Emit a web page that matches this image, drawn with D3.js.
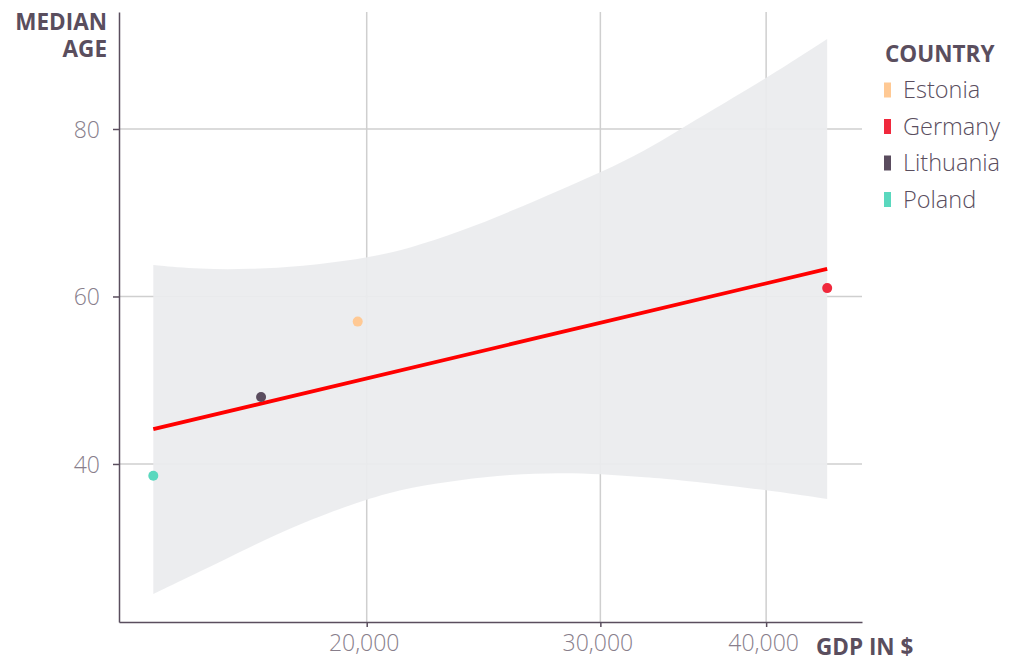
<!DOCTYPE html>
<html>
<head>
<meta charset="utf-8">
<script src="https://cdn.jsdelivr.net/npm/d3@7"></script>
<style>
  body { margin: 0; background: #fff; }
  svg { font-family: "Open Sans", "Noto Sans", sans-serif; }
</style>
</head>
<body>
<div id="chart"></div>
<script>
// data
const countries = ["Estonia", "Germany", "Lithuania", "Poland"];
const gdp = [19690, 44470, 16650, 13810];
const medianAge = [57.0, 61.0, 48.0, 38.6];
const countryColors = ["#ffc994", "#f0283c", "#5a4c5e", "#5ad8be"];

// fitted line ends
const fitGdp = [13810, 44470];
const fitAge = [44.15, 63.3];

// confidence band
const bandGdp = [13810, 14970, 16330, 17820, 20000, 21560, 23520, 25650, 27970, 29990, 32520, 34450, 40070, 44470];
const bandUpper = [63.76, 63.25, 63.25, 63.56, 64.56, 65.75, 67.74, 70.13, 72.72, 74.78, 77.5, 80.0, 86.1, 90.75];
const bandLower = [24.48, 27.14, 30.09, 32.92, 35.82, 37.2, 38.1, 38.75, 38.96, 38.81, 38.4, 38.1, 36.9, 35.82];

const xTicks = [20000, 30000, 40000];
const yTicks = [40, 60, 80];

const width = 1014, height = 662;
const plot = { left: 119, right: 862, top: 12, bottom: 622 };

const svg = d3.select("#chart").append("svg")
  .attr("width", width)
  .attr("height", height);

const x = d3.scaleLog().domain([13012, 47240]).range([plot.left, plot.right]);
const y = d3.scaleLinear().domain([21.13, 93.97]).range([plot.bottom, plot.top]);

const axisColor = "#5a4e5e";
const tickColor = "#887e8b";
const gridColor = "#cfcfcf";

// grid
svg.append("g").selectAll("line").data(yTicks).join("line")
  .attr("x1", plot.left).attr("x2", plot.right)
  .attr("y1", d => y(d)).attr("y2", d => y(d))
  .attr("stroke", gridColor).attr("stroke-width", 1.5);

svg.append("g").selectAll("line").data(xTicks).join("line")
  .attr("x1", d => x(d)).attr("x2", d => x(d))
  .attr("y1", plot.top).attr("y2", plot.bottom)
  .attr("stroke", gridColor).attr("stroke-width", 1.5);

// band (basis curve smooths out reading noise)
const band = bandGdp.map((g, i) => ({ g, hi: bandUpper[i], lo: bandLower[i] }));
svg.append("path")
  .datum(band)
  .attr("fill", "#ebecee")
  .attr("fill-opacity", 0.93)
  .attr("d", d3.area()
    .curve(d3.curveBasis)
    .x(d => x(d.g))
    .y0(d => y(d.lo))
    .y1(d => y(d.hi)));

// fit line
svg.append("line")
  .attr("x1", x(fitGdp[0])).attr("x2", x(fitGdp[1]))
  .attr("y1", y(fitAge[0])).attr("y2", y(fitAge[1]))
  .attr("stroke", "#ff0000")
  .attr("stroke-width", 3.8);

// points
svg.append("g").selectAll("circle").data(countries).join("circle")
  .attr("cx", (d, i) => x(gdp[i]))
  .attr("cy", (d, i) => y(medianAge[i]))
  .attr("r", 5)
  .attr("fill", (d, i) => countryColors[i]);

// axes
const yAxis = svg.append("g")
  .attr("transform", `translate(${plot.left},0)`)
  .call(d3.axisLeft(y).tickValues(yTicks).tickSize(6).tickSizeOuter(0).tickPadding(13));
const xAxis = svg.append("g")
  .attr("transform", `translate(0,${plot.bottom})`)
  .call(d3.axisBottom(x).tickValues(xTicks).tickSize(5).tickSizeOuter(0).tickPadding(8)
    .tickFormat(d3.format(",")));

[xAxis, yAxis].forEach(a => {
  a.select(".domain").attr("stroke", axisColor).attr("stroke-width", 1.5);
  a.selectAll(".tick line").attr("stroke", axisColor).attr("stroke-width", 1.5);
  a.selectAll(".tick text")
    .attr("fill", tickColor)
    .style("font-size", "23px")
    .style("font-weight", 300)
    .style("font-family", "'Open Sans', sans-serif");
});
yAxis.selectAll(".tick text").attr("dy", "0.35em");
xAxis.selectAll(".tick text").attr("dy", "0.71em").attr("dx", -3);

// axis titles
const titleStyle = sel => sel
  .attr("fill", axisColor)
  .style("font-size", "22.5px")
  .style("font-weight", 700);

svg.append("text").attr("x", 107).attr("y", 30).attr("text-anchor", "end")
  .text("MEDIAN").call(titleStyle);
svg.append("text").attr("x", 107).attr("y", 57).attr("text-anchor", "end")
  .text("AGE").call(titleStyle);
svg.append("text").attr("x", 816).attr("y", 655)
  .text("GDP IN $").call(titleStyle);

// legend
const legend = svg.append("g").attr("transform", "translate(884,0)");
legend.append("text").attr("x", 1).attr("y", 62)
  .text("COUNTRY").call(titleStyle);

const item = legend.selectAll("g").data(countries).join("g")
  .attr("transform", (d, i) => `translate(0,${90 + i * 36.5})`);
item.append("rect")
  .attr("x", 0).attr("y", -7.5)
  .attr("width", 7).attr("height", 15)
  .attr("fill", (d, i) => countryColors[i]);
item.append("text")
  .attr("x", 19).attr("dy", "0.35em")
  .attr("fill", axisColor)
  .style("font-size", "23.5px")
  .style("font-weight", 300)
  .text(d => d);
</script>
</body>
</html>
